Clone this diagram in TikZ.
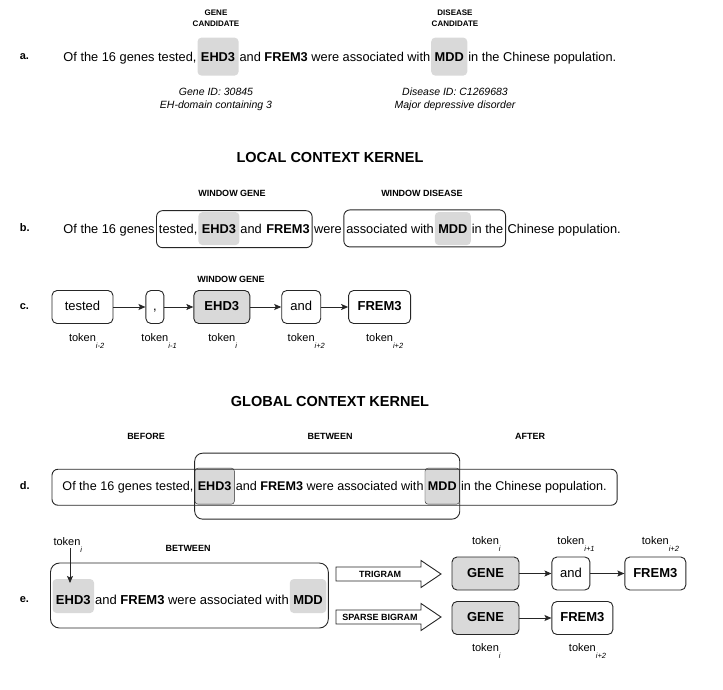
\documentclass[tikz,border=0pt]{standalone}
\usepackage{fontspec}
\setmainfont{Liberation Sans}
\usetikzlibrary{arrows.meta, positioning, fit, backgrounds, calc}

\newcommand\sentfont{\fontsize{13}{15}\selectfont}
\newcommand\tok[1]{token\rlap{\raisebox{-7pt}[0pt][0pt]{\fontsize{7.5}{8}\selectfont\itshape #1}}}

\begin{document}
\begin{tikzpicture}[x=1pt, y=-1pt, line width=0.9pt,
    word/.style={inner sep=0pt, anchor=base west, font=\fontsize{12.8}{15}\selectfont},
    dword/.style={word, font=\fontsize{12.6}{15}\selectfont},
    eword/.style={word, font=\sentfont},
    hl/.style={fill=gray!30, rounded corners=4pt, inner xsep=3pt, inner ysep=0pt, minimum height=38pt},
    caps/.style={font=\fontsize{9}{11}\selectfont\bfseries, align=center},
    lbl/.style={font=\fontsize{11}{13}\selectfont\bfseries, anchor=west},
    heading/.style={font=\fontsize{14.5}{17}\selectfont\bfseries},
    tokbox/.style={draw=black!85, rounded corners=5pt, minimum height=33pt, text height=9.5pt, text depth=2pt, font=\sentfont},
    toklbl/.style={font=\fontsize{11}{13}\selectfont, inner sep=2pt},
    win/.style={draw=black!85, rounded corners=6pt},
    arr/.style={-{Stealth[length=7pt, width=6pt, inset=1.5pt]}, draw=black!85}]

    \useasboundingbox (0,0) rectangle (723,690);

    % a. candidates
    \node[caps, font=\fontsize{8}{11.5}\selectfont\bfseries] (gcand) at (216,18) {GENE\\CANDIDATE};
    \node[caps, font=\fontsize{8}{11.5}\selectfont\bfseries] (dcand) at (455,18) {DISEASE\\CANDIDATE};
    \node[lbl] (la) at (16,57) {a.};
    \node[word] (a1) at (63,62) {Of the 16 genes tested,};
    \node[word] (ag) at ([xshift=3.55pt]a1.base east) {\textbf{EHD3}};
    \node[word] (a2) at ([xshift=3.55pt]ag.base east) {and \textbf{FREM3} were associated with};
    \node[word] (ad) at ([xshift=3.55pt]a2.base east) {\textbf{MDD}};
    \node[word] (a3) at ([xshift=3.55pt]ad.base east) {in the Chinese population.};
    \begin{scope}[on background layer]
      \node[hl, fit=(ag), yshift=1pt] (agbox) {};
      \node[hl, fit=(ad), yshift=1pt] (adbox) {};
    \end{scope}
    \node[font=\fontsize{10.5}{13}\selectfont\itshape, align=center] (ginfo) at (216,99.5) {Gene ID: 30845\\EH-domain containing 3};
    \node[font=\fontsize{10.5}{13}\selectfont\itshape, align=center] (dinfo) at (455,99.5) {Disease ID: C1269683\\Major depressive disorder};

    % b. local windows
    \node[heading] (local) at (330,158) {LOCAL CONTEXT KERNEL};
    \node[caps] (wgene) at (232,193) {WINDOW GENE};
    \node[caps] (wdis) at (422,193) {WINDOW DISEASE};
    \node[lbl] (lb) at (16,228) {b.};
    \node[word] (b1) at (63,233) {Of the 16 genes};
    \node[word] (b2) at ([xshift=3.55pt]b1.base east) {tested,};
    \node[word] (bg) at ([xshift=3.55pt]b2.base east) {\textbf{EHD3}};
    \node[word] (b3) at ([xshift=3.55pt]bg.base east) {and};
    \node[word] (bf) at ([xshift=3.55pt]b3.base east) {\textbf{FREM3}};
    \node[word] (b4) at ([xshift=3.55pt]bf.base east) {were};
    \node[word] (b5) at ([xshift=3.55pt]b4.base east) {associated with};
    \node[word] (bd) at ([xshift=3.55pt]b5.base east) {\textbf{MDD}};
    \node[word] (b6) at ([xshift=3.55pt]bd.base east) {in the};
    \node[word] (b7) at ([xshift=3.55pt]b6.base east) {Chinese population.};
    \begin{scope}[on background layer]
      \node[hl, fit=(bg), minimum height=33pt] (bgbox) {};
      \node[hl, fit=(bd), minimum height=33pt] (bdbox) {};
    \end{scope}
    \node[win, fit=(b2)(bf), inner xsep=2pt, inner ysep=0pt, minimum height=37pt] (wbox1) {};
    \node[win, fit=(b5)(b6), inner xsep=2pt, inner ysep=0pt, minimum height=37pt] (wbox2) {};

    % c. token chain
    \node[caps] (wgene2) at (231,279) {WINDOW GENE};
    \node[lbl] (lc) at (16,307) {c.};
    \node[tokbox, minimum width=61pt] (ctested) at (82.5,307) {tested};
    \node[tokbox, minimum width=18pt, right=32pt of ctested] (ccomma) {,};
    \node[tokbox, minimum width=56pt, fill=gray!30, font=\sentfont\bfseries, right=29pt of ccomma] (cgene) {EHD3};
    \node[tokbox, minimum width=39pt, right=31pt of cgene] (cand) {and};
    \node[tokbox, minimum width=62pt, font=\sentfont\bfseries, right=27pt of cand] (cfrem) {FREM3};
    \node[toklbl, below=7pt of ctested] (ttested) {\tok{i-2}};
    \node[toklbl, below=7pt of ccomma] (tcomma) {\tok{i-1}};
    \node[toklbl, below=7pt of cgene] (tgene) {\tok{i}};
    \node[toklbl, below=7pt of cand] (tand) {\tok{i+2}};
    \node[toklbl, below=7pt of cfrem] (tfrem) {\tok{i+2}};
    \draw[arr] (ctested) -- (ccomma);
    \draw[arr] (ccomma) -- (cgene);
    \draw[arr] (cgene) -- (cand);
    \draw[arr] (cand) -- (cfrem);

    % d. global context
    \node[heading] (global) at (330,402) {GLOBAL CONTEXT KERNEL};
    \node[caps] (before) at (146,436) {BEFORE};
    \node[caps] (between) at (330,436) {BETWEEN};
    \node[caps] (after) at (530,436) {AFTER};
    \node[lbl] (ld) at (16,486) {d.};
    \node[dword] (d1) at (62,490.5) {Of the 16 genes tested,};
    \node[dword] (dg) at ([xshift=3.5pt]d1.base east) {\textbf{EHD3}};
    \node[dword] (d2) at ([xshift=3.5pt]dg.base east) {and \textbf{FREM3} were associated with};
    \node[dword] (dd) at ([xshift=3.5pt]d2.base east) {\textbf{MDD}};
    \node[dword] (d3) at ([xshift=3.5pt]dd.base east) {in the Chinese population.};
    \begin{scope}[on background layer]
      \node[hl, draw=black!85, fit=(dg), inner xsep=2.5pt, minimum height=36pt, rounded corners=3pt] (dgbox) {};
      \node[hl, draw=black!85, fit=(dd), inner xsep=2.5pt, minimum height=36pt, rounded corners=3pt] (ddbox) {};
    \end{scope}
    \node[win, fit=(d1)(d3), inner xsep=10pt, inner ysep=0pt, minimum height=36pt] (dall) {};
    \node[win, fit=(dgbox)(ddbox), inner sep=0pt, minimum height=66pt, rounded corners=8pt] (dmid) {};

    % e. n-grams
    \node[toklbl] (etok) at (67,542) {\tok{i}};
    \node[caps] (ebetw) at (188,548) {BETWEEN};
    \node[lbl] (le) at (16,600) {e.};
    \node[eword] (e1) at (55.5,604.5) {\textbf{EHD3}};
    \node[eword] (e2) at ([xshift=3.6pt]e1.base east) {and \textbf{FREM3} were associated with};
    \node[eword] (e3) at ([xshift=3.6pt]e2.base east) {\textbf{MDD}};
    \begin{scope}[on background layer]
      \node[hl, fit=(e1), minimum height=34pt, yshift=4pt] (e1box) {};
      \node[hl, fit=(e3), minimum height=34pt, yshift=4pt] (e3box) {};
    \end{scope}
    \node[win, fit=(e1)(e3), inner xsep=5pt, inner ysep=0pt, minimum height=65pt, yshift=4.5pt, rounded corners=9pt] (ebox) {};
    \coordinate (etip) at (70,583);
    \draw[arr] (etok.south -| etip) -- (etip);

    \coordinate (tri) at (336,574);
    \coordinate (spb) at (336,617);
    \draw[draw=black!85, fill=white] (tri) ++(0,-7) -- ++(85,0) -- ++(0,-6.5) -- ++(20,13.5) -- ++(-20,13.5) -- ++(0,-6.5) -- ++(-85,0) -- cycle;
    \draw[draw=black!85, fill=white] (spb) ++(0,-7) -- ++(85,0) -- ++(0,-6.5) -- ++(20,13.5) -- ++(-20,13.5) -- ++(0,-6.5) -- ++(-85,0) -- cycle;
    \node[caps] (trilbl) at ($(tri)+(44,0)$) {TRIGRAM};
    \node[caps] (spblbl) at ($(spb)+(44,0)$) {SPARSE BIGRAM};

    \node[tokbox, minimum width=67pt, fill=gray!30, font=\sentfont\bfseries] (tgene3) at (485.5,573.5) {GENE};
    \node[tokbox, minimum width=38pt, right=32pt of tgene3] (tand3) {and};
    \node[tokbox, minimum width=61pt, font=\sentfont\bfseries, right=34pt of tand3] (tfrem3) {FREM3};
    \node[tokbox, minimum width=67pt, fill=gray!30, font=\sentfont\bfseries] (bgene2) at (485.5,618) {GENE};
    \node[tokbox, minimum width=61pt, font=\sentfont\bfseries, right=32pt of bgene2] (bfrem2) {FREM3};
    \node[toklbl, above=9pt of tgene3] (ltgene) {\tok{i}};
    \node[toklbl, above=9pt of tand3] (ltand) {\tok{i+1}};
    \node[toklbl, above=9pt of tfrem3] (ltfrem) {\tok{i+2}};
    \node[toklbl, below=6pt of bgene2] (lbgene) {\tok{i}};
    \node[toklbl, below=6pt of bfrem2] (lbfrem) {\tok{i+2}};
    \draw[arr] (tgene3) -- (tand3);
    \draw[arr] (tand3) -- (tfrem3);
    \draw[arr] (bgene2) -- (bfrem2);
  \end{tikzpicture}
\end{document}
